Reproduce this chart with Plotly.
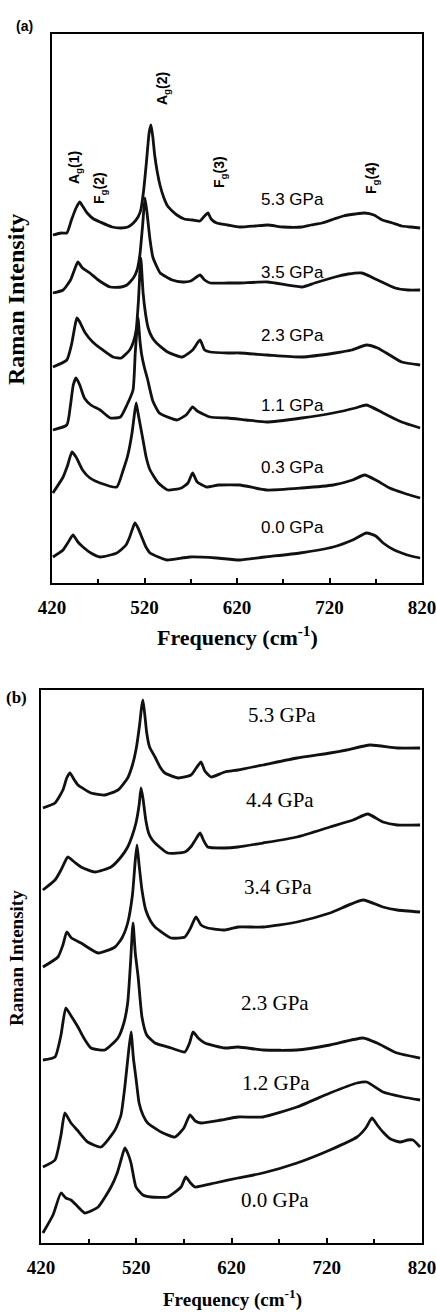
import plotly.graph_objects as go

# ---------------- Panel (a) data: frequency (cm-1) and Raman intensity (a.u.) ----------------
A53_X = [421,430,436,441,446,450,453,458,465,472,485,495,502,508,513,516,519,522,525,527,529,531,534,537,541,545,550,555,563,572,580,584,588.6,592,598,610,623,640,653,670,690,700,712,725,735,748,758,768,777,788,798,808,818]
A53_Y = [348,350,350,363,375,381,377,370,364,361,356,355,356,360,366,373,392,420,450,458,446,428,410,397,385,377,372,368,364,363,362,366,370,364,360,358,356,357,358,356,356,358,360,364,367,369,370,368,363,360,357,356,355]

A35_X = [421,432,440,445,448,453,461,470,483,495,501,508,512,515,518,520.5,523,526,529,533,537,550,561,570,580,585,591,610,623,653,690,704,726,740,755,772,791,805,818]
A35_Y = [290,293,303,315,321,315,310,303,296,296,298,305,313,328,358,385,368,343,326,317,310,303,301,302,308,303,300,300,300,301,296,300,306,309,310,303,295,293,293]

A23_X = [421,436,441,445,447,450,456,464,472,486,495,504,508,511,513.5,516,518.5,521,524,528,533,545,561,572,580,585,591,610,623,653,690,726,744,760,772,785,798,818]
A23_Y = [216,223,238,258,265,261,250,241,235,226,225,233,241,253,283,325,290,270,255,246,240,231,226,233,243,233,231,230,230,228,226,230,233,238,235,228,221,218]

A11_X = [421,436,440,443,446,450,455,462,472,483,494,501,507.6,510,513,515,517,520,523,529,536,545,555,565,572,577,591,610,630,652,690,724,748,760,778,798,818]
A11_Y = [153,158,178,198,205,198,185,178,173,165,166,178,193,230,265,243,228,215,205,182,170,166,163,168,176,172,166,165,163,161,165,170,175,178,170,161,155]

A03_X = [421,432,437,441.6,446,453,461,472,490,497,502,506.5,509,511,513,516,518.4,522,526,535,545,560,567,572,577,587,600,623,652,690,724,745,758,770,785,800,818]
A03_Y = [90,106,118,131,126,113,105,100,96,113,128,150,168,180,170,155,143,125,113,100,93,95,100,110,101,96,98,98,93,95,98,103,108,103,95,90,85]

A00_X = [421,432,437,442.7,448,453.5,462,472,490,500,504,507,509.7,513,517,521,526,535,544,569,598,623,650,688,724,745,760,770,778,790,798,808,818]
A00_Y = [26,33,40,48,41,36,30,26,30,38,46,54,60,55,46,37,30,26,23,26,25,23,26,30,36,43,50,47,40,33,30,27,25]

A_LABELS = ["5.3 GPa", "3.5 GPa", "2.3 GPa", "1.1 GPa", "0.3 GPa", "0.0 GPa"]

# ---------------- Panel (b) data ----------------
B53_X = [422,434.7,443,447,450.4,455,458.8,472.5,487,500.8,511,516,519.7,523.5,525.5,527,529,531,534,539.7,545,550,564,577.5,583,588,592,598.5,613,626.8,653,688.8,723.4,741,765.4,794,818]
B53_Y = [435,440,453,465,470,463,458,450,448,453,465,478,493,518,535,543,528,510,496,486,476,470,465,468,475,481,472,466,471,473,478,485,490,493,498,495,495]

B44_X = [422,434.7,441,445,448,455,462,476.7,493.5,504,511,516,519.7,523,525,527,530,533,535.5,539.7,553,571,578,582,587,591,595,613,626.8,653,688.8,723.4,747.6,763,779,794,818]
B44_Y = [353,363,373,381,386,381,376,371,376,386,396,408,420,438,455,445,423,410,405,400,390,391,397,403,410,402,396,395,396,400,406,416,423,429,421,418,418]

B34_X = [422,437.8,443,447,452,462,480,497.7,505,511,516,519,520.8,523,526,530,535,539.7,556.5,571,577,582.7,588,595,613,626.8,653,688.8,723.4,758,779,794,818]
B34_Y = [276,286,298,311,305,300,290,296,305,320,348,383,398,378,353,333,322,316,305,306,315,326,318,315,313,316,316,321,330,343,336,333,331]

B23_X = [422,434.7,441,446,451,458.8,465,472.5,487,500.8,507,511,514,516.6,519,522,526,531,539.7,556.5,571,576,579.6,585,592,613,626.8,653,688.8,723.4,758,772.8,793.8,818]
B23_Y = [183,186,208,235,228,216,205,195,193,205,220,240,280,320,290,266,226,208,200,195,191,200,211,205,200,195,196,193,193,198,205,200,190,185]

B12_X = [422,434.7,441,445,451.5,458,469,483,497.7,504,508,511,514.5,517,519.7,523,527,532,546,560.7,570,576.4,582,588,609,626.8,653,688.8,723.4,751.8,762,779,800,818]
B12_Y = [76,83,108,130,120,113,101,96,113,128,156,183,211,185,165,140,128,120,111,106,115,128,122,120,123,126,126,136,150,160,161,151,146,143]

B00_X = [422,432.6,441,446,451.5,458,466,480,493.5,500,504,508,511,514.5,519.7,527,535.5,553,567,572,577,581.7,602.7,626.8,653,688.8,723.4,751.8,761,767.5,773,779,787,797,805,810.5,818]
B00_Y = [10,28,50,45,43,37,30,36,56,70,83,95,90,80,56,48,46,46,56,66,60,56,60,65,70,80,93,106,115,125,118,111,104,101,103,103,96]

B_LABELS = ["5.3 GPa", "4.4 GPa", "3.4 GPa", "2.3 GPa", "1.2 GPa", "0.0 GPa"]

X_TICKS = [420, 520, 620, 720, 820]
X_MINOR = [470, 570, 670, 770]
MODE_LABELS = ["A<sub>g</sub>(1)", "F<sub>g</sub>(2)", "A<sub>g</sub>(2)", "F<sub>g</sub>(3)", "F<sub>g</sub>(4)"]

W, H = 436, 1313
SERIF = "Liberation Serif, Times New Roman, serif"
SANS = "Liberation Sans, Arial, sans-serif"
LINE = dict(color="#111111", width=2.8, shape="spline", smoothing=0.5)


def px(x, y):
    return x / W, 1 - y / H


fig = go.Figure()
for xs, ys in [(A53_X, A53_Y), (A35_X, A35_Y), (A23_X, A23_Y), (A11_X, A11_Y), (A03_X, A03_Y), (A00_X, A00_Y)]:
    fig.add_trace(go.Scatter(x=xs, y=ys, mode="lines", line=LINE, xaxis="x", yaxis="y", hoverinfo="skip"))
for xs, ys in [(B53_X, B53_Y), (B44_X, B44_Y), (B34_X, B34_Y), (B23_X, B23_Y), (B12_X, B12_Y), (B00_X, B00_Y)]:
    fig.add_trace(go.Scatter(x=xs, y=ys, mode="lines", line=LINE, xaxis="x2", yaxis="y2", hoverinfo="skip"))


def xaxis(domain, anchor, size):
    return dict(domain=domain, anchor=anchor, range=[420, 820], tickmode="array", tickvals=X_TICKS,
                ticktext=[str(v) for v in X_TICKS], ticks="inside", ticklen=5, tickwidth=2, tickcolor="black",
                minor=dict(tickvals=X_MINOR, ticks="inside", ticklen=4, tickwidth=2, tickcolor="black"),
                showline=True, mirror=True, linewidth=2, linecolor="black", showgrid=False, zeroline=False,
                tickfont=dict(family=SERIF, size=size, color="black", weight="bold"), ticklabelstandoff=6,
                ticklabeloverflow="allow", automargin=False, fixedrange=True)


def yaxis(domain, anchor, top):
    return dict(domain=domain, anchor=anchor, range=[0, top], showticklabels=False, ticks="",
                showline=True, mirror=True, linewidth=2, linecolor="black", showgrid=False, zeroline=False,
                automargin=False, fixedrange=True)


fig.update_layout(
    width=W, height=H, margin=dict(l=0, r=0, t=0, b=0, autoexpand=False),
    paper_bgcolor="white", plot_bgcolor="white", showlegend=False,
    xaxis=xaxis([52 / W, 422 / W], "y", 19),
    yaxis=yaxis([1 - 583 / H, 1 - 34 / H], "x", 549),
    xaxis2=xaxis([41 / W, 422 / W], "y2", 19),
    yaxis2=yaxis([1 - 1243 / H, 1 - 690 / H], "x2", 553),
)

ann = []


def add(text, x, y, font, angle=0):
    ax, ay = px(x, y)
    ann.append(dict(text=text, x=ax, y=ay, xref="paper", yref="paper", showarrow=False,
                    xanchor="center", yanchor="middle", textangle=angle, font=font))


# panel letters
add("(a)", 24, 26, dict(family=SANS, size=14, color="black", weight="bold"))
add("(b)", 16, 697, dict(family=SERIF, size=17, color="black", weight="bold"))

# axis titles
add("Raman Intensity", 16, 300, dict(family=SERIF, size=24, color="black", weight="bold"), -90)
add("Frequency (cm<sup>-1</sup>)", 237, 636, dict(family=SERIF, size=22, color="black", weight="bold"))
add("Raman Intensity", 16, 958, dict(family=SERIF, size=19, color="black", weight="bold"), -90)
add("Frequency (cm<sup>-1</sup>)", 232, 1298, dict(family=SERIF, size=19, color="black", weight="bold"))

# pressure labels, panel (a)
for lab, y in zip(A_LABELS, [199, 272, 335, 405, 467, 527]):
    add(lab, 292, y, dict(family=SANS, size=17, color="black"))
# pressure labels, panel (b)
for lab, (x, y) in zip(B_LABELS, [(282, 715), (280, 800), (278, 887), (275, 1003), (276, 1083), (275, 1200)]):
    add(lab, x, y, dict(family=SERIF, size=21, color="black"))

# mode labels, panel (a)
for lab, (x, y) in zip(MODE_LABELS, [(75, 168), (100, 188), (163, 89), (220, 172), (372, 178)]):
    add(lab, x, y, dict(family=SANS, size=14, color="black", weight="bold"), -90)

fig.update_layout(annotations=ann)
fig.write_html("out.html")
